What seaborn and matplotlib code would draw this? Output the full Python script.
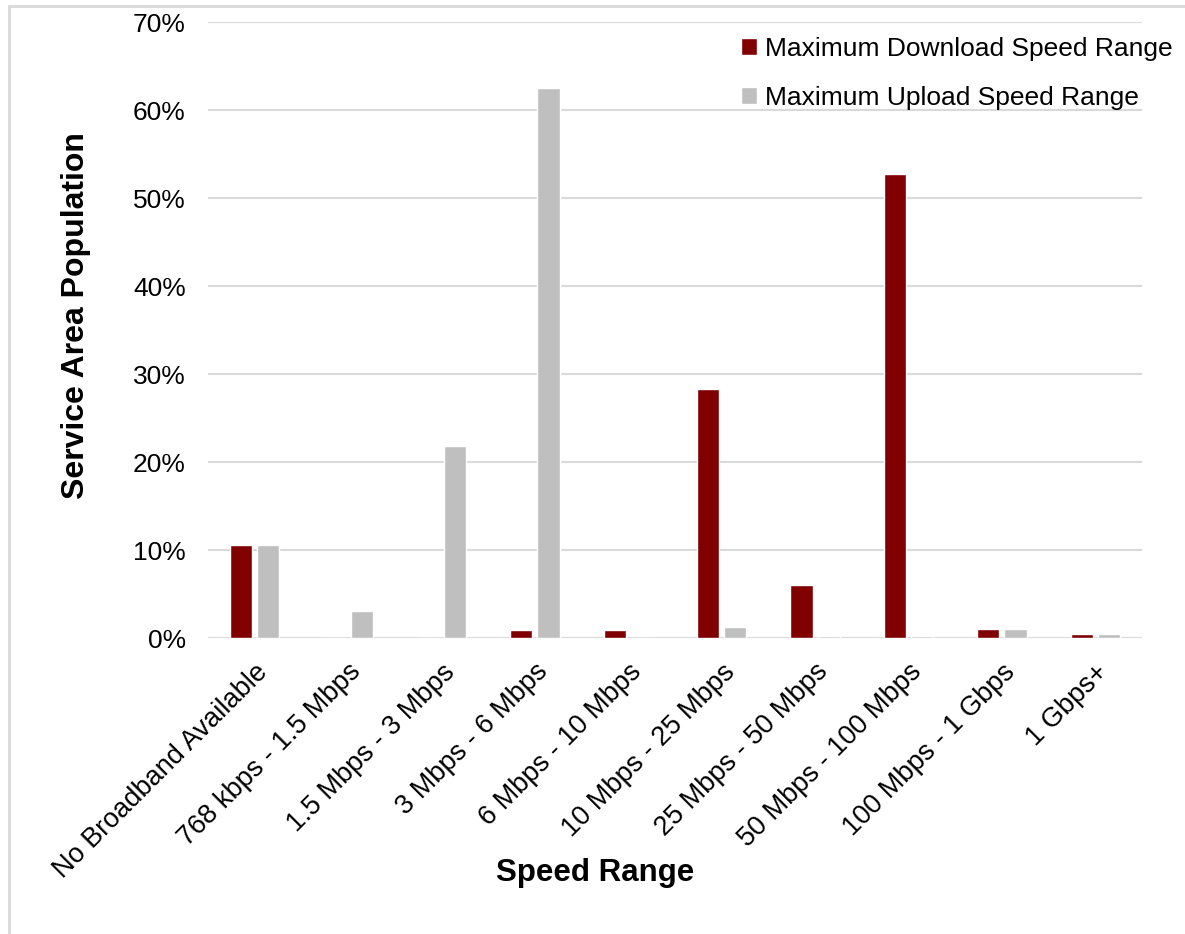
import matplotlib
matplotlib.use("Agg")
import matplotlib.pyplot as plt
from matplotlib.lines import Line2D
from matplotlib.ticker import FuncFormatter, MultipleLocator
import numpy as np
import pandas as pd
import seaborn as sns

# Speed tiers and share of service-area population (%)
speed_ranges = [
    "No Broadband Available",
    "768 kbps - 1.5 Mbps",
    "1.5 Mbps - 3 Mbps",
    "3 Mbps - 6 Mbps",
    "6 Mbps - 10 Mbps",
    "10 Mbps - 25 Mbps",
    "25 Mbps - 50 Mbps",
    "50 Mbps - 100 Mbps",
    "100 Mbps - 1 Gbps",
    "1 Gbps+",
]
download_pct = [10.6, 0.0, 0.0, 0.9, 0.9, 28.3, 6.0, 52.7, 1.0, 0.5]
upload_pct = [10.6, 3.1, 21.8, 62.5, 0.0, 1.2, 0.2, 0.2, 1.0, 0.5]
series_names = ["Maximum Download Speed Range", "Maximum Upload Speed Range"]
series_colors = ["#800000", "#BFBFBF"]

df = pd.DataFrame({
    "Speed Range": speed_ranges * 2,
    "share": download_pct + upload_pct,
    "series": [series_names[0]] * len(speed_ranges) + [series_names[1]] * len(speed_ranges),
})

sns.set_theme(style="white")
plt.rcParams["font.family"] = ["Liberation Sans", "DejaVu Sans"]

fig = plt.figure(figsize=(11.85, 9.34), dpi=100)
ax = fig.add_axes([0.1755, 0.3169, 0.7882, 0.6595])

sns.barplot(
    data=df, x="Speed Range", y="share", hue="series",
    order=speed_ranges, hue_order=series_names,
    palette=series_colors, saturation=1, width=0.58, gap=0.18,
    ax=ax, legend=True,
)

ax.set_ylim(0, 70)
ax.yaxis.set_major_locator(MultipleLocator(10))
ax.yaxis.set_major_formatter(FuncFormatter(lambda v, _: f"{v:.0f}%"))
ax.set_xlim(-0.5, len(speed_ranges) - 0.5)
ax.grid(axis="y", color="#D9D9D9", linewidth=1.5)
ax.set_axisbelow(True)
for side in ["top", "right", "left", "bottom"]:
    ax.spines[side].set_visible(False)

ax.tick_params(axis="y", labelsize=19, pad=16, length=0, labelcolor="black")
ax.tick_params(axis="x", labelsize=19.5, pad=15, length=0, labelcolor="black")
for lbl in ax.get_xticklabels():
    lbl.set_rotation(45)
    lbl.set_ha("right")
    lbl.set_rotation_mode("anchor")

ax.set_ylabel("Service Area Population", fontsize=23, fontweight="bold", color="black")
ax.yaxis.label.set_va("center")
ax.yaxis.set_label_coords(-0.141, 0.524)
ax.set_xlabel("Speed Range", fontsize=22.5, fontweight="bold", color="black")
ax.xaxis.label.set_va("center")
ax.xaxis.set_label_coords(0.414, -0.381)

leg = ax.legend(
    loc="upper right", bbox_to_anchor=(1.0 + 41 / 934, 1.0 - 4 / 616),
    frameon=False, fontsize=19, handlelength=0.62, handleheight=0.62,
    handletextpad=0.3, labelspacing=0.95, borderaxespad=0, labelcolor="black",
)

# Light frame along the left and top edges of the canvas
fig.add_artist(Line2D([9 / 1185, 9 / 1185], [0, 1 - 6 / 934], transform=fig.transFigure,
                      color="#D9D9D9", linewidth=2))
fig.add_artist(Line2D([9 / 1185, 1], [1 - 6 / 934, 1 - 6 / 934], transform=fig.transFigure,
                      color="#D9D9D9", linewidth=2))

fig.savefig("out.png", dpi=100, facecolor="white")
